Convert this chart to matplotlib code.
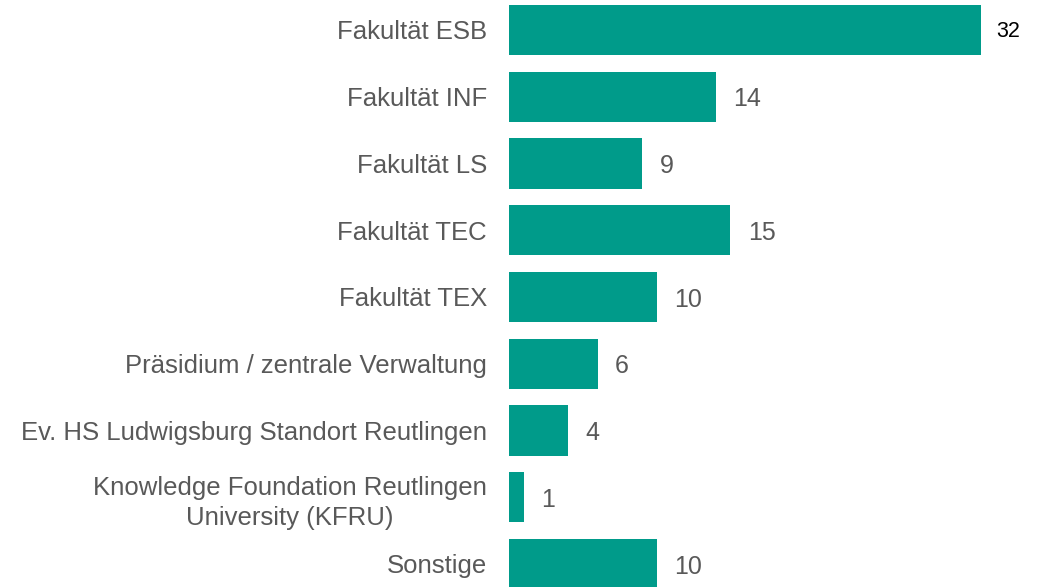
import matplotlib
matplotlib.use('Agg')
import matplotlib.pyplot as plt
import numpy as np

labels = ['Fakultät ESB', 'Fakultät INF', 'Fakultät LS', 'Fakultät TEC', 'Fakultät TEX',
          'Präsidium / zentrale Verwaltung', 'Ev. HS Ludwigsburg Standort Reutlingen',
          'Knowledge Foundation Reutlingen\nUniversity (KFRU)', 'Sonstige']
values = [32, 14, 9, 15, 10, 6, 4, 1, 10]

plt.rcParams['font.family'] = ['Liberation Sans', 'DejaVu Sans']
bar_color = '#009B8A'

fig = plt.figure(figsize=(10.39, 5.87), dpi=100)
ax = fig.add_axes([509/1039, 0, (981-509)/1039, 1])
y = np.arange(len(values))
ax.barh(y, values, height=0.75, color=bar_color)
ax.set_xlim(0, 32)
ax.set_ylim(8.345, -0.449)
ax.set_yticks(y)
ax.set_yticklabels(labels, fontsize=18.5, color='#595959', ha='right',
                   multialignment='center', linespacing=1.35)
ax.tick_params(axis='y', length=0, pad=16)
ax.set_xticks([])
for s in ax.spines.values():
    s.set_visible(False)

for i, v in enumerate(values):
    if i == 0:
        ax.text(v + 1.05, i + 0.03, str(v), va='center', ha='left', fontsize=15.5, color='black')
    else:
        ax.text(v + 1.2, i + 0.04, str(v), va='center', ha='left', fontsize=18, color='#595959')

fig.savefig('out.png', dpi=100)
